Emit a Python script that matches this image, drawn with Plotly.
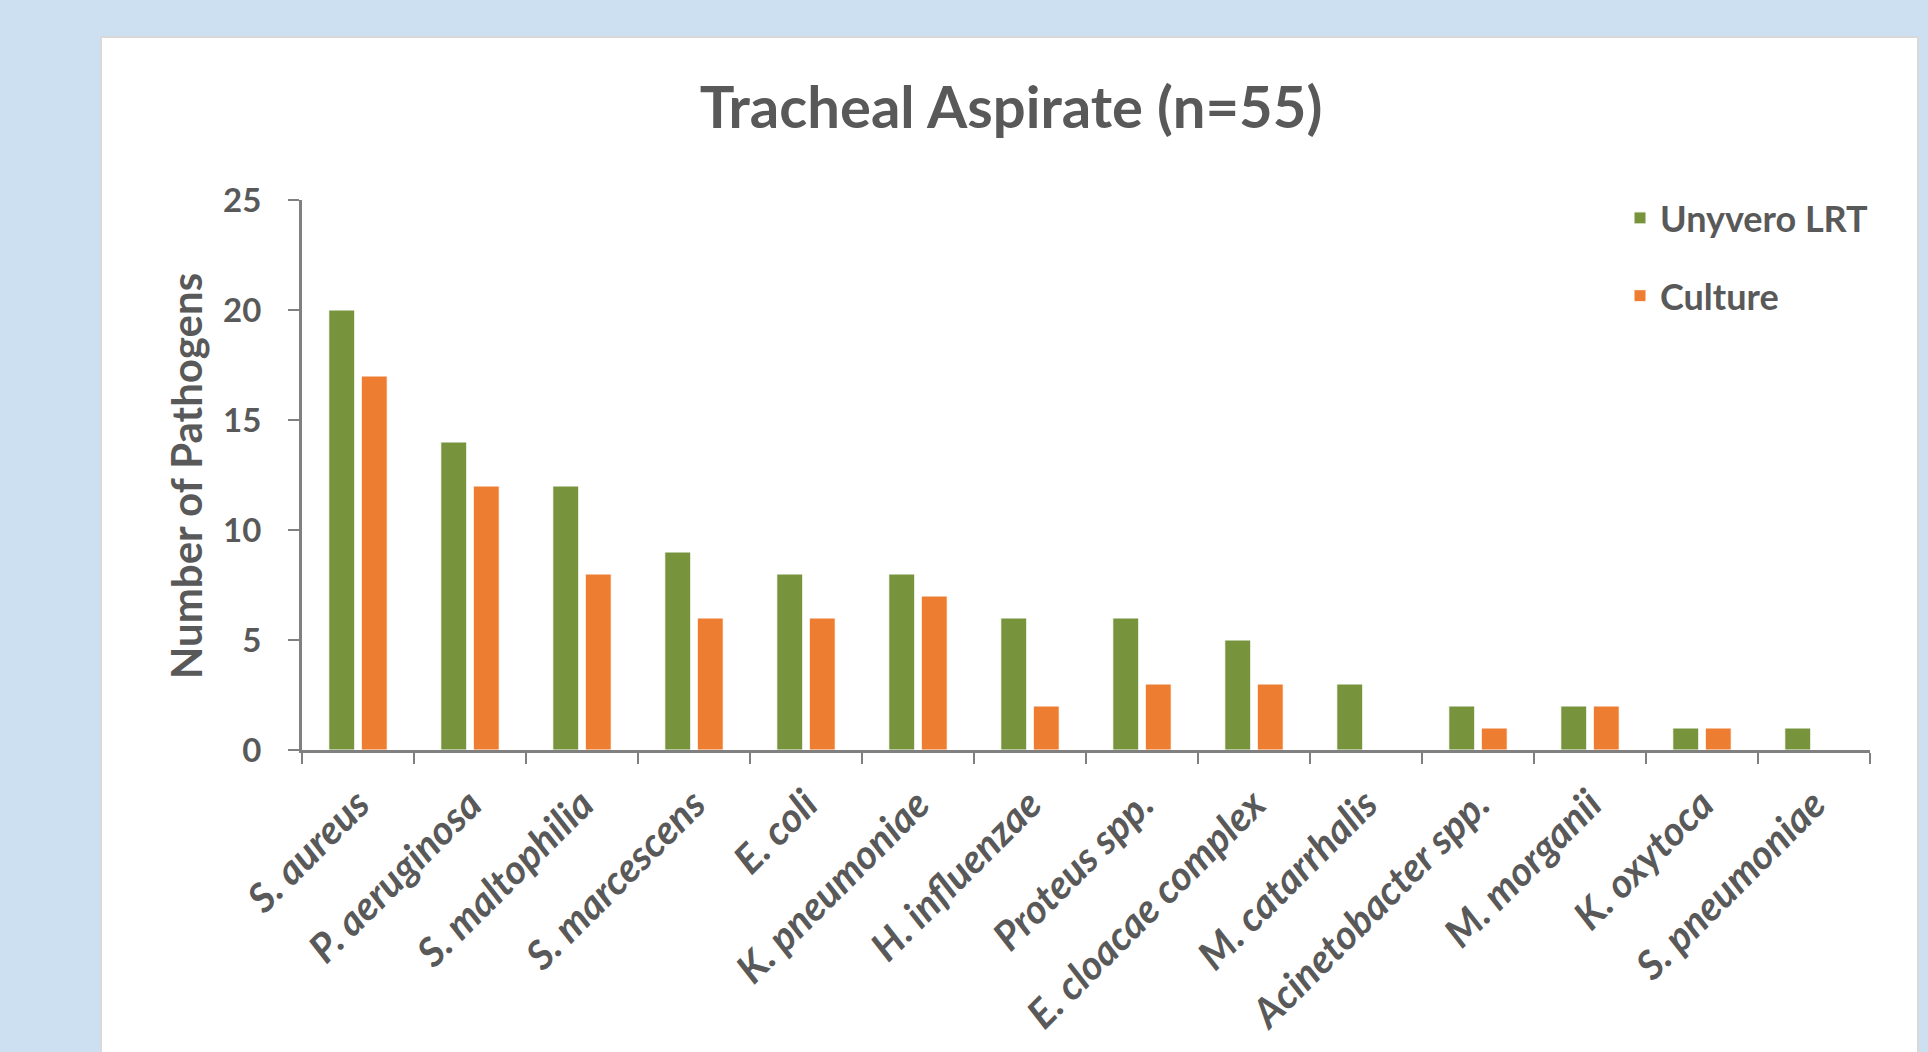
import plotly.graph_objects as go

categories = ["S. aureus", "P. aeruginosa", "S. maltophilia", "S. marcescens", "E. coli",
              "K. pneumoniae", "H. influenzae", "Proteus spp.", "E. cloacae complex",
              "M. catarrhalis", "Acinetobacter spp.", "M. morganii", "K. oxytoca", "S. pneumoniae"]
unyvero = [20, 14, 12, 9, 8, 8, 6, 6, 5, 3, 2, 2, 1, 1]
culture = [17, 12, 8, 6, 6, 7, 2, 3, 3, 0, 1, 2, 1, 0]
y_ticks = [0, 5, 10, 15, 20, 25]

GREEN = "#77933C"
ORANGE = "#ED7D31"
TXT = "#595959"
AX = "#808080"
FONT = "Lato"

W, H = 1928, 1052
L, R, T, B = 302, 58, 200, 302

fig = go.Figure()
fig.add_trace(go.Bar(x=categories, y=unyvero, name="Unyvero LRT", legendgroup="a",
                     marker=dict(color=GREEN, line=dict(color="white", width=1))))
fig.add_trace(go.Bar(x=categories, y=culture, name="Culture", legendgroup="b",
                     marker=dict(color=ORANGE, line=dict(color="white", width=1))))

pw = W - L - R
ph = H - T - B

fig.update_layout(
    width=W, height=H,
    margin=dict(l=L, r=R, t=T, b=B, autoexpand=False),
    paper_bgcolor="#CCE0F2",
    plot_bgcolor="white",
    barmode="group", bargap=0.42, bargroupgap=0.2,
    font=dict(family=FONT, color=TXT),
    title=dict(text="<b>Tracheal Aspirate (n=55)</b>", x=1011 / W, xanchor="center",
               y=1 - 108 / H, yanchor="middle", yref="container", xref="container",
               font=dict(size=58, family=FONT, color=TXT)),
    legend=dict(x=(1620 - L) / pw, xanchor="left", y=1 + 12 / ph, yanchor="top",
                font=dict(size=36, family=FONT, color=TXT, weight="bold"),
                bgcolor="rgba(0,0,0,0)", traceorder="grouped", tracegroupgap=28),
    xaxis=dict(showline=True, linecolor=AX, linewidth=3, ticks="outside", tickson="boundaries",
               ticklen=11, tickwidth=2, tickcolor=AX, tickangle=-45,
               tickfont=dict(size=40, family=FONT, color=TXT, style="italic", weight="bold"),
               ticklabelstandoff=12, showgrid=False, zeroline=False),
    yaxis=dict(range=[0, 25], tickvals=y_ticks, showline=True, linecolor=AX, linewidth=3,
               ticks="outside", ticklen=11, tickwidth=2, tickcolor=AX,
               tickfont=dict(size=33, family=FONT, color=TXT, weight="bold"),
               showgrid=False, zeroline=False, ticklabelstandoff=20),
    shapes=[dict(type="rect", xref="paper", yref="paper",
                 x0=(101 - L) / pw, x1=(1918 - L) / pw,
                 y0=-(H + 10 - (H - B)) / ph, y1=(H - B - 37) / ph,
                 fillcolor="white", line=dict(color="#D9D9D9", width=2), layer="below")],
    annotations=[dict(text="<b>Number of Pathogens</b>", textangle=-90, xref="paper", yref="paper",
                      x=(186 - L) / pw, y=((H - B) - 476) / ph, xanchor="center", yanchor="middle",
                      showarrow=False, font=dict(size=42, family=FONT, color=TXT))],
)

fig.write_html("out.html", config={"displayModeBar": False},
               post_script="document.body.style.margin='0';")
